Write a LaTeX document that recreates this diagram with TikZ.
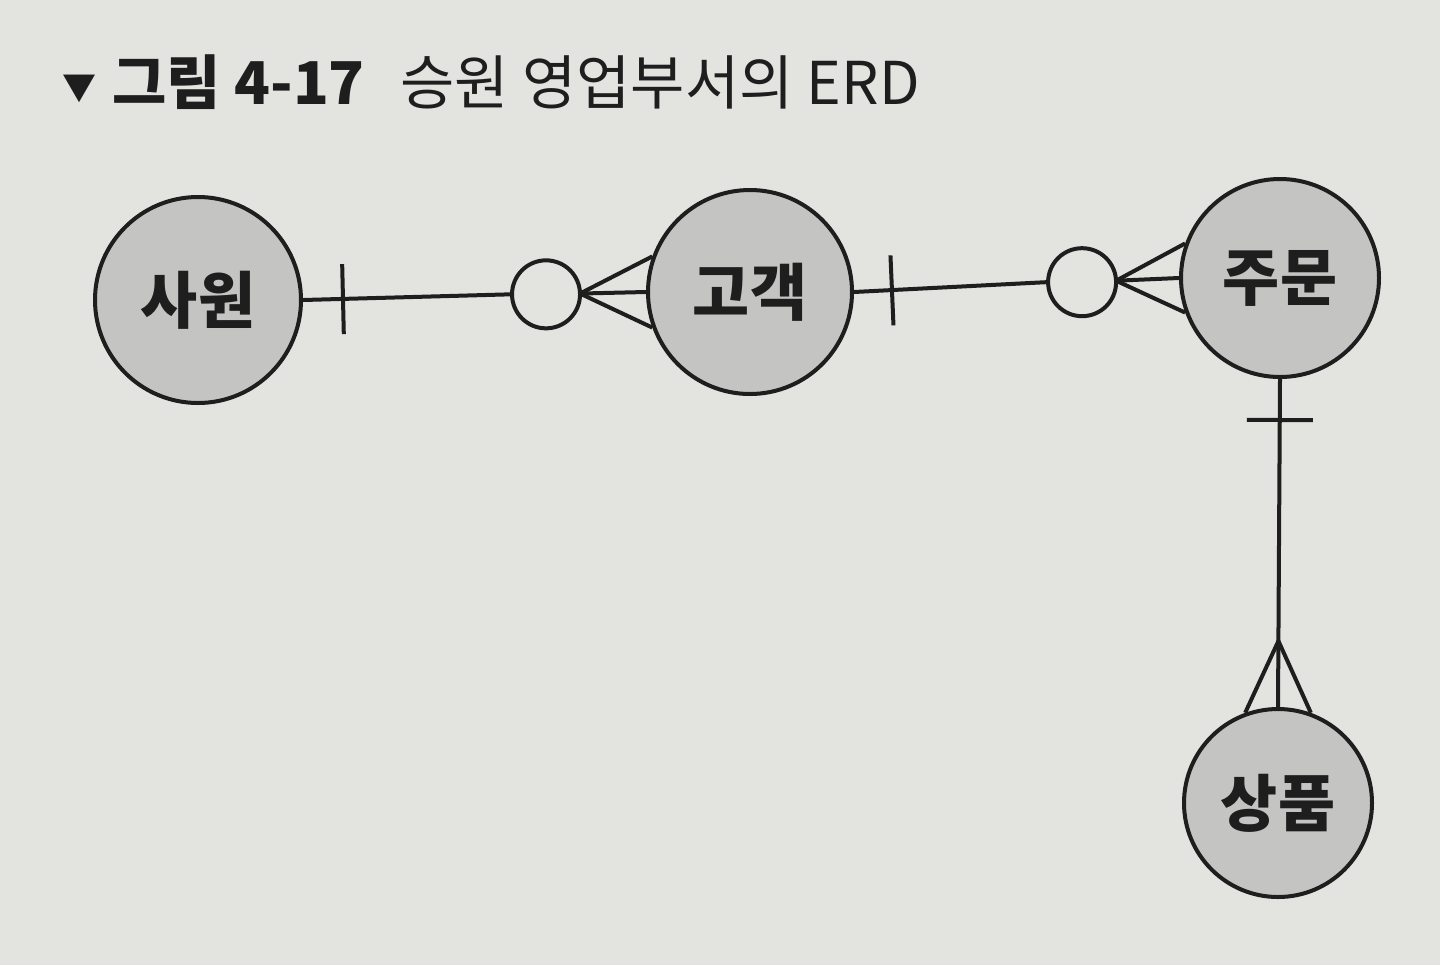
\documentclass[tikz,border=0pt]{standalone}
\usepackage{fontspec}
\newfontfamily\cjk{Noto Sans CJK KR}
\usetikzlibrary{calc}
\definecolor{paper}{RGB}{227,227,224}
\definecolor{entfill}{RGB}{196,196,195}
\definecolor{ink}{RGB}{30,30,30}
\tikzset{
  entity/.style={circle, draw=ink, line width=2pt, fill=entfill, inner sep=0pt,
    font=\cjk\bfseries\fontsize{31}{31}\selectfont, text=ink},
  optcircle/.style={circle, draw=ink, line width=2pt, fill=paper, inner sep=0pt, minimum size=34pt},
  rel/.style={draw=ink, line width=2pt},
  titlebold/.style={font=\cjk\bfseries\fontsize{29.5}{29.5}\selectfont, text=ink, inner sep=0pt},
  titlereg/.style={font=\cjk\fontsize{29.5}{29.5}\selectfont, text=ink, inner sep=0pt},
}
\begin{document}
\begin{tikzpicture}[x=0.5pt,y=-0.5pt]
\fill[paper] (0,0) rectangle (1440,965);
\useasboundingbox (0,0) rectangle (1440,965);

% title
\node[titlebold, font=\cjk\fontsize{17}{17}\selectfont, anchor=base west] (tri) at (62,100) {▼};
\node[titlebold, anchor=base west] (t1) at (112,104) {그림 4-17};
\node[titlereg, anchor=base west] (t2) at (400,104) {승원 영업부서의 ERD};

% entities
\node[entity, minimum size=103pt] (A) at (198,300) {사원};
\node[entity, minimum size=102pt] (B) at (750,292) {고객};
\node[entity, minimum size=99pt] (C) at (1280,278) {주문};
\node[entity, minimum size=94pt] (D) at (1278,803) {상품};

% relation A - B
\coordinate (ta) at ($(A.east)!20pt!(B.west)$);
\coordinate (va) at ($(B.west)!33pt!(A.east)$);
\node[optcircle] (oa) at ($(B.west)!50pt!(A.east)$) {};
\draw[rel] (A.east) -- (oa.west);
\draw[rel] ($(ta)!17.5pt!90:(B.west)$) -- ($(ta)!17.5pt!-90:(B.west)$);
\draw[rel] (va) -- (B.west);
\draw[rel] (va) -- (B.160);
\draw[rel] (va) -- (B.200);

% relation B - C
\coordinate (tb) at ($(B.east)!19pt!(C.west)$);
\coordinate (vb) at ($(C.west)!31.5pt!(B.east)$);
\node[optcircle] (ob) at ($(C.west)!48.5pt!(B.east)$) {};
\draw[rel] (B.east) -- (ob.west);
\draw[rel] ($(tb)!17.5pt!90:(C.west)$) -- ($(tb)!17.5pt!-90:(C.west)$);
\draw[rel] (vb) -- (C.west);
\draw[rel] (vb) -- (C.160);
\draw[rel] (vb) -- (C.200);

% relation C - D
\coordinate (tc) at ($(C.south)!20.5pt!(D.north)$);
\coordinate (vc) at ($(D.north)!33pt!(C.south)$);
\draw[rel] (C.south) -- (D.north);
\draw[rel] ($(tc)!16.5pt!90:(D.north)$) -- ($(tc)!16.5pt!-90:(D.north)$);
\draw[rel] (vc) -- (D.70);
\draw[rel] (vc) -- (D.110);
\end{tikzpicture}
\end{document}
